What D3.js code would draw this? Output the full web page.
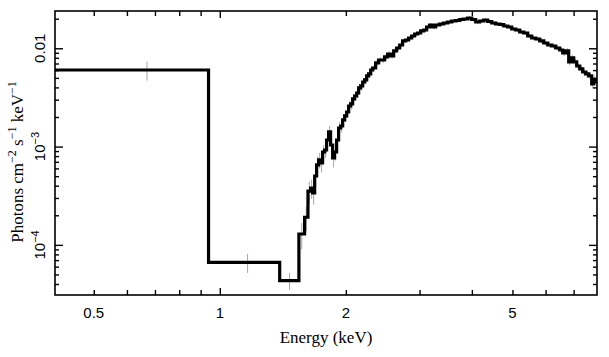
<!DOCTYPE html>
<html>
<head>
<meta charset="utf-8">
<script src="https://cdn.jsdelivr.net/npm/d3@7"></script>
<style>
  html, body { margin: 0; padding: 0; background: #fff; }
  svg { display: block; }
</style>
</head>
<body>
<svg id="chart" width="609" height="357"></svg>
<script>
// ---------------- data ----------------
// bin edges in keV (n+1 entries)
const binEdges = [
  0.40, 0.94, 1.39, 1.545, 1.594, 1.624, 1.648, 1.666, 1.685, 1.703,
  1.722, 1.741, 1.760, 1.780, 1.799, 1.819, 1.839, 1.860, 1.880, 1.901,
  1.922, 1.944, 1.965, 1.987, 2.009, 2.031, 2.054, 2.076, 2.099, 2.123,
  2.146, 2.170, 2.194, 2.218, 2.243, 2.267, 2.293, 2.317, 2.356, 2.395,
  2.435, 2.475, 2.517, 2.559, 2.602, 2.645, 2.689, 2.733, 2.779, 2.825,
  2.872, 2.920, 2.969, 3.018, 3.068, 3.119, 3.171, 3.223, 3.277, 3.350,
  3.424, 3.501, 3.579, 3.659, 3.740, 3.824, 3.909, 3.996, 4.085, 4.175,
  4.268, 4.363, 4.460, 4.559, 4.661, 4.765, 4.871, 4.980, 5.090, 5.204,
  5.320, 5.438, 5.559, 5.683, 5.809, 5.939, 6.071, 6.206, 6.344, 6.485,
  6.593, 6.702, 6.813, 6.889, 7.003, 7.119, 7.239, 7.359, 7.481, 7.605,
  7.732, 7.817, 7.904, 8.00
];
// photons cm^-2 s^-1 keV^-1 per bin (n entries)
const fluxValues = [
  6.01e-3, 6.65e-5, 4.33e-5, 1.29e-4, 1.91e-4, 3.53e-4, 3.79e-4, 3.37e-4, 5.02e-4, 6.50e-4,
  7.31e-4, 6.81e-4, 8.81e-4, 9.23e-4, 1.167e-3, 1.408e-3, 1.038e-3, 7.66e-4, 8.81e-4, 1.167e-3,
  1.546e-3, 1.620e-3, 1.865e-3, 2.048e-3, 2.249e-3, 2.588e-3, 2.713e-3, 3.05e-3, 3.27e-3, 3.51e-3,
  3.95e-3, 4.14e-3, 4.54e-3, 4.76e-3, 5.23e-3, 5.48e-3, 6.01e-3, 6.30e-3, 7.09e-3, 7.60e-3,
  7.60e-3, 8.16e-3, 8.75e-3, 8.35e-3, 9.39e-3, 1.007e-2, 1.080e-2, 1.187e-2, 1.214e-2, 1.273e-2,
  1.334e-2, 1.398e-2, 1.431e-2, 1.500e-2, 1.535e-2, 1.647e-2, 1.726e-2, 1.647e-2, 1.726e-2, 1.767e-2,
  1.809e-2, 1.851e-2, 1.895e-2, 1.918e-2, 1.963e-2, 1.986e-2, 2.033e-2, 1.963e-2, 1.851e-2, 1.895e-2,
  1.939e-2, 1.873e-2, 1.809e-2, 1.767e-2, 1.746e-2, 1.686e-2, 1.647e-2, 1.571e-2, 1.535e-2, 1.465e-2,
  1.431e-2, 1.334e-2, 1.273e-2, 1.243e-2, 1.187e-2, 1.132e-2, 1.080e-2, 1.055e-2, 1.007e-2, 9.61e-3,
  8.96e-3, 9.39e-3, 7.26e-3, 7.97e-3, 7.26e-3, 6.60e-3, 6.16e-3, 5.74e-3, 5.48e-3, 5.23e-3,
  4.33e-3, 4.76e-3, 4.54e-3
];
// fractional 1-sigma errors per bin
const fluxErrFrac = [
  0.22, 0.22, 0.20, 0.30, 0.28, 0.25, 0.22, 0.24, 0.20, 0.22,
  0.18, 0.20, 0.18, 0.17, 0.16, 0.15, 0.18, 0.20, 0.18, 0.16,
  0.15, 0.14, 0.14, 0.13, 0.13, 0.12, 0.12, 0.12, 0.11, 0.11,
  0.10, 0.10, 0.10, 0.09, 0.09, 0.09, 0.08, 0.08, 0.08, 0.07,
  0.07, 0.07, 0.07, 0.06, 0.06, 0.06, 0.06, 0.05, 0.05, 0.05,
  0.05, 0.05, 0.05, 0.05, 0.05, 0.05, 0.05, 0.05, 0.05, 0.05,
  0.05, 0.05, 0.05, 0.05, 0.05, 0.05, 0.05, 0.05, 0.05, 0.05,
  0.05, 0.05, 0.05, 0.05, 0.05, 0.05, 0.05, 0.05, 0.05, 0.05,
  0.05, 0.05, 0.05, 0.05, 0.06, 0.06, 0.06, 0.06, 0.06, 0.06,
  0.07, 0.07, 0.08, 0.08, 0.08, 0.08, 0.08, 0.09, 0.09, 0.09,
  0.10, 0.10, 0.10
];

const xDomain = [0.404, 7.96];
const yDomain = [3.09e-5, 0.02395];
const xTickValues = [0.5, 0.6, 0.7, 0.8, 0.9, 1, 2, 3, 4, 5, 6, 7];
const xMajorTicks = [1];
const xLabelValues = [0.5, 1, 2, 5];
const xLabelTexts = ["0.5", "1", "2", "5"];
const yMajorTicks = [1e-4, 1e-3, 1e-2];
const yMinorTicks = [4e-5, 5e-5, 6e-5, 7e-5, 8e-5, 9e-5,
  2e-4, 3e-4, 4e-4, 5e-4, 6e-4, 7e-4, 8e-4, 9e-4,
  2e-3, 3e-3, 4e-3, 5e-3, 6e-3, 7e-3, 8e-3, 9e-3, 2e-2];
const yLabelValues = [1e-2, 1e-3, 1e-4];
const yLabelBase = ["0.01", "10", "10"];
const yLabelExp = ["", "\u22123", "\u22124"];

const xTitle = "Energy (keV)";

// ---------------- layout ----------------
const frame = { left: 55, top: 11, right: 597, bottom: 295 };
const svg = d3.select("#chart");

const x = d3.scaleLog().domain(xDomain).range([frame.left, frame.right]);
const y = d3.scaleLog().domain(yDomain).range([frame.bottom, frame.top]);

const W = frame.right - frame.left, H = frame.bottom - frame.top;

svg.append("defs").append("clipPath").attr("id", "clip")
  .append("rect").attr("x", frame.left).attr("y", frame.top).attr("width", W).attr("height", H);

const n = Math.min(fluxValues.length, binEdges.length - 1);
const bins = d3.range(n).map(i => ({
  lo: binEdges[i], hi: binEdges[i + 1], v: fluxValues[i],
  e: fluxValues[i] * fluxErrFrac[i]
}));

const plot = svg.append("g").attr("clip-path", "url(#clip)");

// error bars (grey, behind the model line)
plot.append("g").selectAll("line").data(bins).join("line")
  .attr("x1", d => x((d.lo + d.hi) / 2)).attr("x2", d => x((d.lo + d.hi) / 2))
  .attr("y1", d => y(d.v + d.e)).attr("y2", d => y(Math.max(d.v - d.e, 1e-9)))
  .attr("stroke", "#a8a8a8").attr("stroke-width", 1);

// step histogram
let dStr = "";
bins.forEach((b, i) => {
  if (i === 0) dStr += `M${x(b.lo)},${y(b.v)}`;
  else dStr += `V${y(b.v)}`;
  dStr += `H${x(b.hi)}`;
});
plot.append("path").attr("d", dStr).attr("fill", "none")
  .attr("stroke", "#000").attr("stroke-width", 3.2).attr("stroke-linejoin", "miter");

// ---------------- axes ----------------
const axisStyle = g => {
  g.select(".domain").remove();
  g.selectAll("line").attr("stroke", "#000").attr("stroke-width", 1.4);
  g.selectAll("text").remove();
};

svg.append("g").attr("transform", `translate(0,${frame.bottom})`)
  .call(d3.axisBottom(x).tickValues(xTickValues.filter(v => !xMajorTicks.includes(v))).tickSize(-5)).call(axisStyle);
svg.append("g").attr("transform", `translate(0,${frame.bottom})`)
  .call(d3.axisBottom(x).tickValues(xMajorTicks).tickSize(-7)).call(axisStyle);
svg.append("g").attr("transform", `translate(0,${frame.top})`)
  .call(d3.axisTop(x).tickValues(xTickValues.filter(v => !xMajorTicks.includes(v))).tickSize(-5)).call(axisStyle);
svg.append("g").attr("transform", `translate(0,${frame.top})`)
  .call(d3.axisTop(x).tickValues(xMajorTicks).tickSize(-7)).call(axisStyle);

svg.append("g").attr("transform", `translate(${frame.left},0)`)
  .call(d3.axisLeft(y).tickValues(yMajorTicks).tickSize(-8)).call(axisStyle);
svg.append("g").attr("transform", `translate(${frame.left},0)`)
  .call(d3.axisLeft(y).tickValues(yMinorTicks).tickSize(-4)).call(axisStyle);
svg.append("g").attr("transform", `translate(${frame.right},0)`)
  .call(d3.axisRight(y).tickValues(yMajorTicks).tickSize(-8)).call(axisStyle);
svg.append("g").attr("transform", `translate(${frame.right},0)`)
  .call(d3.axisRight(y).tickValues(yMinorTicks).tickSize(-4)).call(axisStyle);

svg.append("rect").attr("x", frame.left).attr("y", frame.top).attr("width", W).attr("height", H)
  .attr("fill", "none").attr("stroke", "#000").attr("stroke-width", 1.6);

// x tick labels
svg.append("g").selectAll("text").data(xLabelValues).join("text")
  .attr("x", d => x(d)).attr("y", frame.bottom + 23)
  .attr("text-anchor", "middle")
  .attr("font-family", "'Liberation Sans', Arial, sans-serif").attr("font-size", 15)
  .text((d, i) => xLabelTexts[i]);

// y tick labels (rotated)
yLabelValues.forEach((v, i) => {
  const t = svg.append("text")
    .attr("transform", `translate(45,${y(v)}) rotate(-90)`)
    .attr("text-anchor", "middle")
    .attr("font-family", "'Liberation Sans', Arial, sans-serif").attr("font-size", 15);
  t.append("tspan").text(yLabelBase[i]);
  if (yLabelExp[i]) t.append("tspan").attr("dy", -6).attr("font-size", 11).text(yLabelExp[i]);
});

// x title
svg.append("text").attr("x", (frame.left + frame.right) / 2).attr("y", 343)
  .attr("text-anchor", "middle")
  .attr("font-family", "'Liberation Serif', 'Times New Roman', serif").attr("font-size", 17)
  .text(xTitle);

// y title
const yt = svg.append("text")
  .attr("transform", `translate(23,162) rotate(-90)`)
  .attr("text-anchor", "middle")
  .attr("font-family", "'Liberation Serif', 'Times New Roman', serif").attr("font-size", 17);
const yTitleParts = [["Photons cm", false], ["\u22122", true], [" s", false], ["\u22121", true], [" keV", false], ["\u22121", true]];
yTitleParts.forEach(([s, sup]) => {
  yt.append("tspan").attr("baseline-shift", sup ? "super" : null)
    .attr("font-size", sup ? 12 : null).text(s);
});
</script>
</body>
</html>
